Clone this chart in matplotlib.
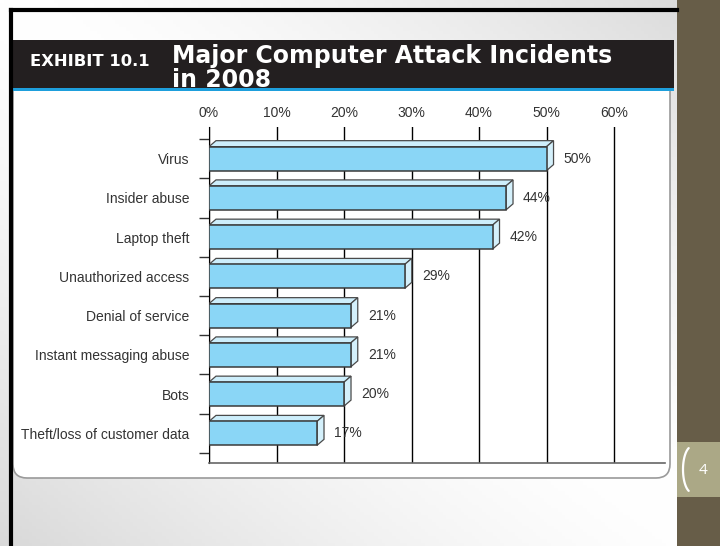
import numpy as np
import matplotlib
matplotlib.use("Agg")
import matplotlib.pyplot as plt
from matplotlib.patches import Rectangle, FancyBboxPatch, Polygon

categories = ["Virus", "Insider abuse", "Laptop theft", "Unauthorized access",
              "Denial of service", "Instant messaging abuse", "Bots",
              "Theft/loss of customer data"]
bar_lengths = [50, 44, 42, 29, 21, 21, 20, 16]
value_labels = ["50%", "44%", "42%", "29%", "21%", "21%", "20%", "17%"]
x_ticks = [0, 10, 20, 30, 40, 50, 60]
x_tick_labels = ["0%", "10%", "20%", "30%", "40%", "50%", "60%"]

W, H = 720, 546
fig = plt.figure(figsize=(7.2, 5.46), dpi=100)

# slide background drawn in pixel coordinates
bg = fig.add_axes([0, 0, 1, 1], zorder=0)
bg.set_xlim(0, W)
bg.set_ylim(H, 0)
bg.axis("off")

xx, yy = np.meshgrid(np.linspace(0, 1, 200), np.linspace(0, 1, 160))
shade = 1 - 0.15 * np.abs(xx - yy) ** 1.4
bg.imshow(np.dstack([shade] * 3), extent=(0, W, H, 0), aspect="auto", zorder=0)

# white chart panel with rounded bottom corners
bg.add_patch(FancyBboxPatch((13, 60), 657, 418, boxstyle="round,pad=0,rounding_size=14",
                            fc="white", ec="#9a9a9a", lw=1.2, zorder=1))
# title bar
bg.add_patch(Rectangle((13, 40), 661, 48, fc="#231f20", ec="none", zorder=2))
bg.add_patch(Rectangle((13, 87.5), 661, 3.2, fc="#1e9fdc", ec="none", zorder=2))
bg.text(30, 61, "EXHIBIT 10.1", color="white", fontsize=11.8, va="center", ha="left",
        family="DejaVu Sans", fontweight="bold", zorder=3)
title1 = bg.text(172, 63, "Major Computer Attack Incidents", color="white", fontsize=16,
                 fontweight="bold", family="DejaVu Sans", va="baseline", ha="left", zorder=3)
title2 = bg.text(172, 87, "in 2008", color="white", fontsize=16,
                 fontweight="bold", family="DejaVu Sans", va="baseline", ha="left", zorder=3)

# fit the title width to the exhibit (172 -> 614 px)
renderer = fig.canvas.get_renderer()
wpx = title1.get_window_extent(renderer).width
scale = 442 / wpx
title1.set_fontsize(16 * scale)
title2.set_fontsize(16 * scale)

# right strip with page number
bg.add_patch(Rectangle((677, 0), 43, H, fc="#675d48", ec="none", zorder=2))
bg.add_patch(Rectangle((677, 442), 43, 55, fc="#aba886", ec="none", zorder=2))
t = np.linspace(np.pi * 0.62, np.pi * 1.38, 40)
bg.plot(692 + 9 * np.cos(t), 469.5 + 23 * np.sin(t) / np.sin(np.pi * 0.62) * 0.93,
        color="white", lw=1.6, zorder=3, solid_capstyle="round")
bg.text(703, 470, "4", color="white", fontsize=11, family="Open Sans",
        va="center", ha="center", zorder=3)

# black slide frame
bg.plot([11, 677], [10, 10], color="black", lw=3, zorder=4)
bg.plot([11, 11], [10, H], color="black", lw=3, zorder=4)

# chart axes
ax = fig.add_axes([209 / W, 1 - 463 / H, (665 - 209) / W, (463 - 127) / H], zorder=2)
ax.set_facecolor("none")
y = np.arange(len(categories))
bar_h = 0.61
dx = 7 / (456 / 67.55)        # depth in data units
dy = 6 / 39.25

ax.set_xlim(0, 67.55)
ax.set_ylim(7.755, -0.806)

for v, yc in zip(bar_lengths, y):
    top = yc - bar_h / 2
    bot = yc + bar_h / 2
    ax.add_patch(Polygon([(0, top), (dx, top - dy), (v + dx, top - dy), (v, top)],
                         closed=True, fc="#cdeefb", ec="#4a4a4a", lw=0.9, zorder=3))
    ax.add_patch(Polygon([(v, top), (v + dx, top - dy), (v + dx, bot - dy), (v, bot)],
                         closed=True, fc="#d4f0fb", ec="#4a4a4a", lw=0.9, zorder=3))
ax.barh(y, bar_lengths, height=bar_h, color="#8ad6f6", edgecolor="#3a3a3a",
        linewidth=1.1, zorder=4)

for v, yc, lab in zip(bar_lengths, y, value_labels):
    ax.annotate(lab, (v + dx, yc), xytext=(10, 0), textcoords="offset pixels",
                va="center", ha="left", fontsize=10, color="#333333",
                family="Liberation Sans", zorder=5)

ax.set_xticks(x_ticks)
ax.set_xticklabels(x_tick_labels, family="Liberation Sans", fontsize=10, color="#333333")
ax.xaxis.tick_top()
ax.tick_params(axis="x", length=0, pad=5)
ax.grid(axis="x", color="black", lw=1, zorder=1)
ax.set_axisbelow(True)

ax.set_yticks(y)
ax.set_yticklabels(categories, family="Liberation Sans", fontsize=10, color="#333333")
ax.set_yticks(np.arange(-0.5, len(categories)), minor=True)
ax.tick_params(axis="y", which="major", length=0, pad=14)
ax.tick_params(axis="y", which="minor", length=7.2, width=1, color="#333333")

for side in ("top", "right"):
    ax.spines[side].set_visible(False)
ax.spines["left"].set_color("black")
ax.spines["bottom"].set_color("#666666")
ax.spines["bottom"].set_linewidth(1.2)

fig.savefig("out.png", dpi=100)
